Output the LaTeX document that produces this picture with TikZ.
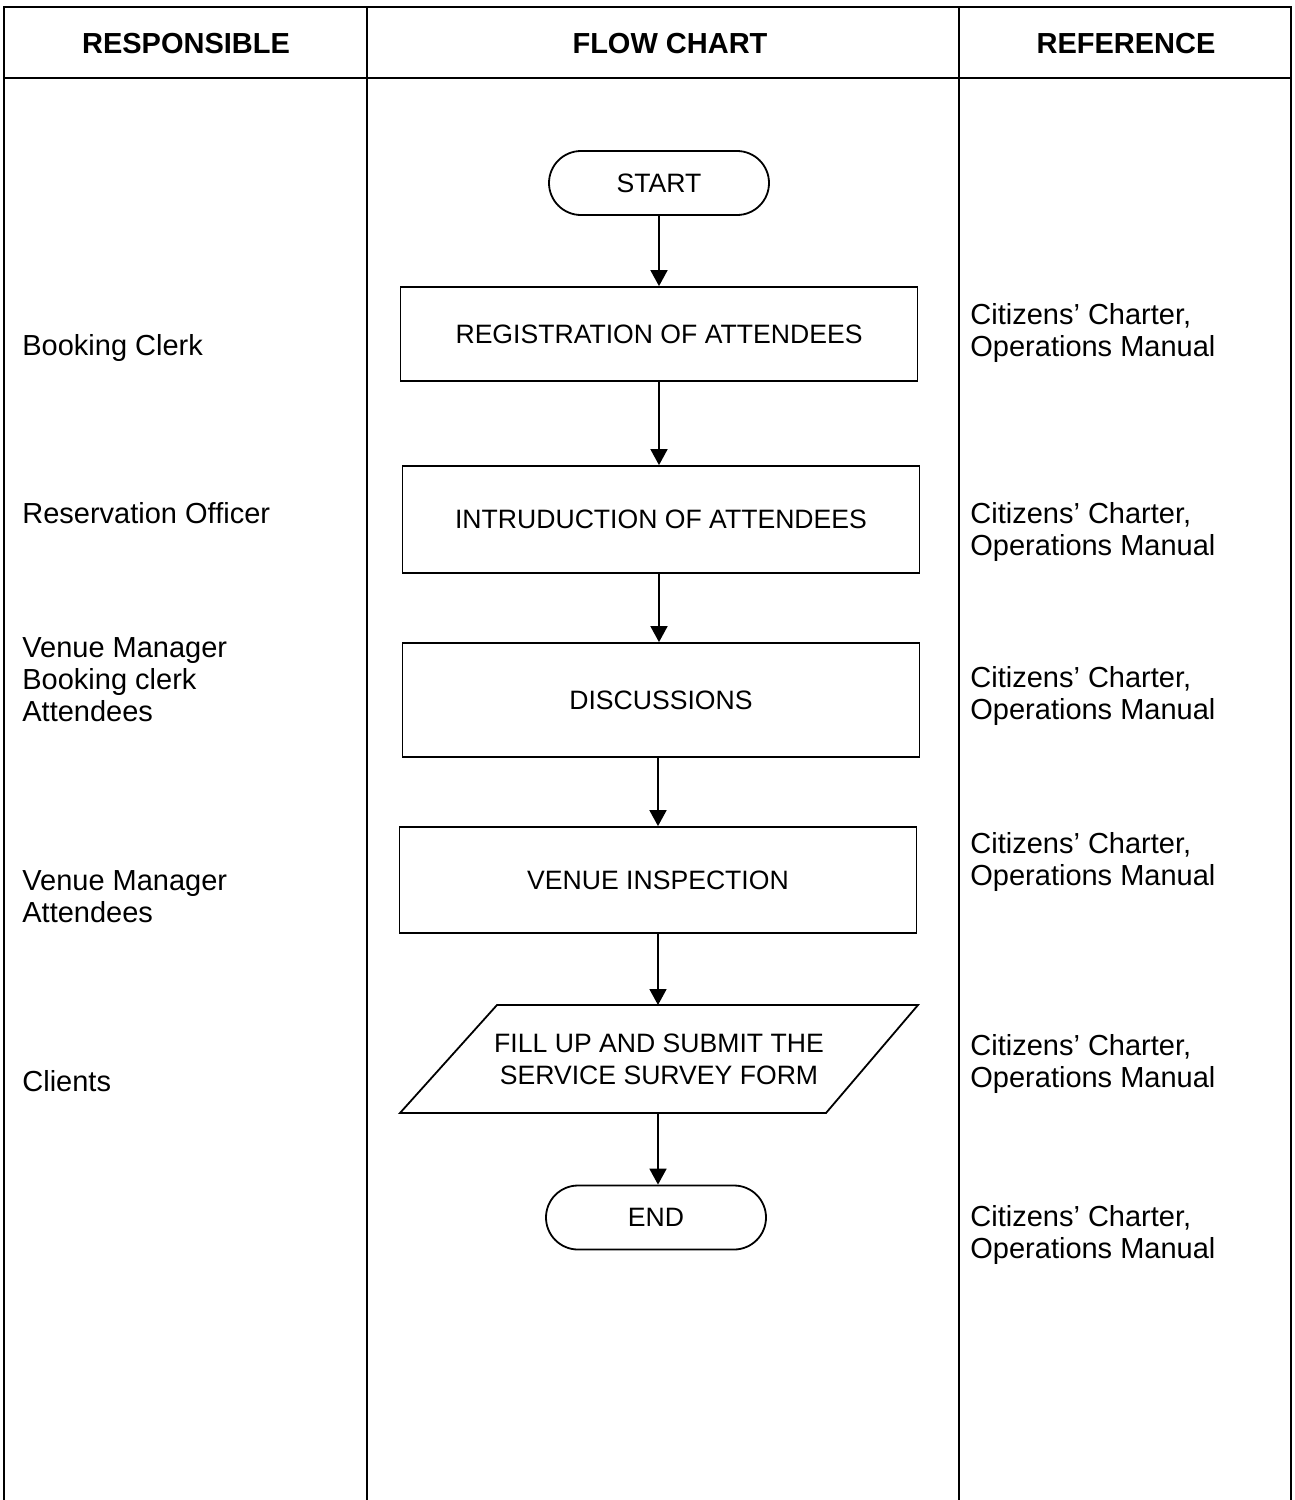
\documentclass[tikz,border=0pt]{standalone}
\usepackage{fontspec}
\setmainfont{Liberation Sans}
\usetikzlibrary{arrows.meta}

\begin{document}
\begin{tikzpicture}[x=0.5pt,y=0.5pt,yscale=-1,xscale=1,
  every node/.style={font=\fontsize{14.5}{16}\selectfont},
  head/.style={font=\fontsize{14.5}{16}\selectfont\bfseries},
  box/.style={font=\fontsize{13.3}{16}\selectfont},
  frame/.style={line width=1.4pt},
  divider/.style={line width=0.6pt},
  outline/.style={line width=0.9pt},
  terminal/.style={box,draw,outline,rounded corners=16pt,minimum width=110pt,minimum height=32pt},
  process/.style={box,draw,outline,minimum width=258.5pt},
  flow/.style={line width=0.9pt,-{Triangle[width=8.5pt,length=8pt]}},
  who/.style={anchor=west,align=left,inner xsep=0pt}]
\useasboundingbox (0,0) rectangle (1295,1500);

% table lines
\draw[frame] (4,1500) -- (4,7) -- (1291,7) -- (1291,1500);
\draw[frame] (4,78) -- (1291,78);
\draw[divider] (367,7) -- (367,1500);
\draw[divider] (959,7) -- (959,1500);

\node[head] (hresp) at (186,44) {RESPONSIBLE};
\node[head] (hflow) at (670,44) {FLOW CHART};
\node[head] (href) at (1126,44) {REFERENCE};

% flow chart
\node[terminal] (start) at (659,183) {START};
\node[process,minimum height=47pt] (reg) at (659,334) {REGISTRATION OF ATTENDEES};
\node[process,minimum height=53.5pt] (intro) at (661,519.5) {INTRUDUCTION OF ATTENDEES};
\node[process,minimum height=57pt] (disc) at (661,700) {DISCUSSIONS};
\node[process,minimum height=53pt] (insp) at (658,880) {VENUE INSPECTION};

% survey form (parallelogram)
\coordinate (surveytop) at (657,1005);
\coordinate (surveybot) at (657,1113);
\draw[outline] (400,1113) -- (497,1005) -- (918,1005) -- (826,1113) -- cycle;
\node[box,align=center] (survey) at (659,1059) {FILL UP AND SUBMIT THE\\SERVICE SURVEY FORM};

\node[terminal] (end) at (656,1217.5) {END};

\draw[flow] (start.south) -- (start.south |- reg.north);
\draw[flow] (reg.south) -- (reg.south |- intro.north);
\draw[flow] (reg.south |- intro.south) -- (reg.south |- disc.north);
\draw[flow] (insp.north |- disc.south) -- (insp.north);
\draw[flow] (insp.south) -- (insp.south |- surveytop);
\draw[flow] (insp.south |- surveybot) -- (insp.south |- end.north);

% responsible
\node[who] (r1) at (22,348) {Booking Clerk};
\node[who] (r2) at (22,513) {Reservation Officer};
\node[who] (r3) at (22,680) {Venue Manager\\Booking clerk\\Attendees};
\node[who] (r4) at (22,897) {Venue Manager\\Attendees};
\node[who] (r5) at (22,1081) {Clients};

% reference
\foreach \y [count=\i] in {333,532,696,862,1064,1235}
  \node[who] (ref\i) at (970,\y) {Citizens' Charter,\\Operations Manual};

\end{tikzpicture}
\end{document}
